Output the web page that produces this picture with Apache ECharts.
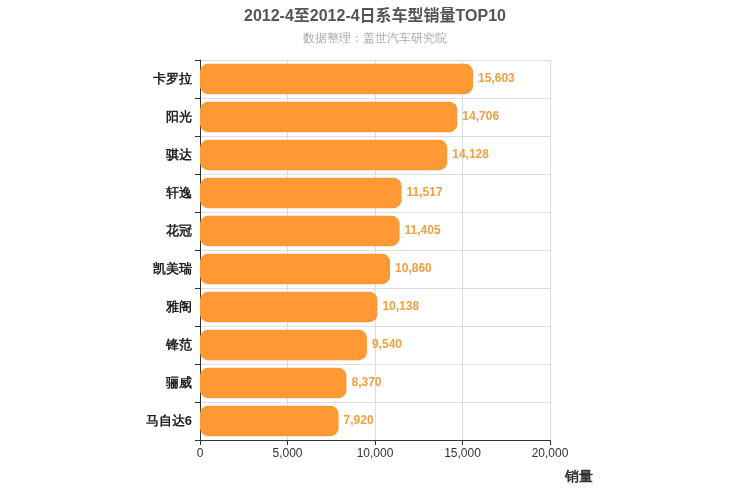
<!DOCTYPE html>
<html><head><meta charset="utf-8">
<script src="https://cdn.jsdelivr.net/npm/echarts@6/dist/echarts.min.js"></script>
<style>html,body{margin:0;padding:0}#c{width:750px;height:500px}</style>
</head><body><div id="c"></div>
<script>
const categories = ['卡罗拉','阳光','骐达','轩逸','花冠','凯美瑞','雅阁','锋范','骊威','马自达6'];
const sales = [15603,14706,14128,11517,11405,10860,10138,9540,8370,7920];
const chart = echarts.init(document.getElementById('c'));
chart.setOption({
  backgroundColor:'#fff',
  title:{text:'2012-4至2012-4日系车型销量TOP10',subtext:'数据整理：盖世汽车研究院',left:'center',top:4,
    textStyle:{fontSize:16,fontWeight:'bold',color:'#555',fontFamily:'Liberation Sans, Noto Sans CJK SC'},
    subtextStyle:{fontSize:12,color:'#aaa'},itemGap:8},
  grid:{left:200,right:200,top:60,bottom:60},
  xAxis:{type:'value',min:0,max:20000,interval:5000,name:'销量',nameLocation:'end',
    nameTextStyle:{fontSize:14,fontWeight:'bold',color:'#333',padding:[30,0,0,0],verticalAlign:'top'},
    axisLine:{show:true,lineStyle:{color:'#333'}},axisTick:{show:true},
    axisLabel:{color:'#333',fontSize:12},splitLine:{lineStyle:{color:'#ddd'}}},
  yAxis:{type:'category',inverse:true,data:categories,
    axisLine:{lineStyle:{color:'#333'}},axisTick:{show:true},
    axisLabel:{color:'#222',fontSize:13,fontWeight:'bold'},
    splitLine:{show:true,lineStyle:{color:'#ddd'}}},
  series:[{type:'bar',data:sales,barWidth:'80%',
    itemStyle:{color:'#ff9933',borderRadius:8},
    label:{show:true,position:'right',color:'#f0a040',fontSize:12,fontWeight:'bold',
      formatter:p=>p.value.toLocaleString('en-US')}}]
});
</script></body></html>
